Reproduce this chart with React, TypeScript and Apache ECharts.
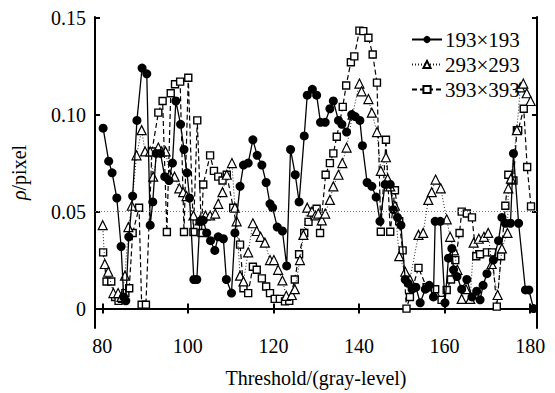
import React, { useEffect, useRef } from "react";
import * as echarts from "echarts";

const xTicks = [80, 100, 120, 140, 160, 180];
const yTicks = [0, 0.05, 0.1, 0.15];
const seriesNames = ["193×193", "293×293", "393×393"];
const refLine = 0.05;

const circleX = [80.2,81.5,82.3,83.4,84.4,85.0,85.5,86.2,87.1,88.1,89.3,90.4,91.2,91.8,92.6,93.6,94.6,95.6,96.4,97.2,98.3,99.1,99.8,100.4,101.4,102.1,102.8,103.6,104.4,105.3,106.3,107.1,108.3,109.0,110.2,111.0,112.2,113.0,114.1,115.2,116.2,117.3,118.3,119.2,119.8,120.9,122.1,123.1,124.0,125.1,126.0,127.2,127.9,129.1,130.1,131.0,132.1,133.2,134.0,135.2,136.0,137.1,138.3,139.1,140.2,140.8,141.9,143.0,144.0,144.9,146.1,147.3,148.0,149.0,149.8,150.8,151.5,152.4,153.3,154.3,155.5,156.4,157.4,157.8,159.0,160.1,160.9,161.7,162.1,162.9,164.0,165.2,166.4,167.5,168.3,169.0,169.9,171.4,172.6,173.4,174.2,175.4,176.1,177.3,178.9,179.7,180.8];
const circleY = [0.093,0.076,0.070,0.057,0.032,0.006,0.004,0.037,0.058,0.097,0.124,0.121,0.043,0.055,0.080,0.080,0.068,0.066,0.075,0.107,0.095,0.082,0.070,0.057,0.015,0.015,0.045,0.0455,0.039,0.035,0.030,0.037,0.036,0.015,0.008,0.039,0.063,0.074,0.075,0.087,0.079,0.074,0.065,0.054,0.052,0.042,0.040,0.022,0.082,0.069,0.055,0.089,0.110,0.113,0.110,0.096,0.096,0.103,0.107,0.097,0.095,0.091,0.100,0.099,0.097,0.084,0.065,0.063,0.0575,0.045,0.064,0.064,0.051,0.047,0.043,0.015,0.013,0.010,0.011,0.003,0.010,0.012,0.006,0.045,0.045,0.003,0.026,0.031,0.020,0.0165,0.010,0.015,0.006,0.009,0.0045,0.012,0.018,0.025,0.035,0.047,0.044,0.044,0.080,0.044,0.0096,0.0096,0.000];

const triX = [80.1,80.6,81.4,82.6,83.7,84.5,85.3,86.1,86.9,88.0,89.2,90.0,91.2,91.9,93.1,93.9,94.8,95.8,96.9,98.0,98.9,99.7,101.3,102.8,104.1,105.2,106.4,107.1,108.1,109.1,110.3,111.0,111.4,112.2,113.0,114.1,115.2,116.1,117.0,118.0,119.2,120.1,121.1,122.1,123.0,124.3,125.0,126.2,127.0,127.9,129.0,129.8,130.5,131.3,132.1,133.2,134.0,135.2,136.1,137.1,138.5,140.1,140.6,142.2,143.0,144.2,145.1,146.3,146.7,147.3,148.4,149.4,150.8,151.9,153.9,155.0,156.2,157.0,157.9,159.1,160.5,161.3,162.2,163.0,164.0,165.0,166.0,166.8,168.0,169.2,170.2,171.0,172.4,173.4,174.7,174.9,175.5,176.9,177.7,178.4,179.2,180.1];
const triY = [0.043,0.023,0.019,0.008,0.008,0.006,0.017,0.042,0.053,0.079,0.092,0.081,0.081,0.068,0.083,0.081,0.081,0.069,0.068,0.062,0.060,0.058,0.048,0.0455,0.048,0.048,0.049,0.054,0.060,0.069,0.075,0.052,0.045,0.017,0.014,0.029,0.044,0.040,0.037,0.034,0.025,0.025,0.020,0.0145,0.0066,0.007,0.010,0.025,0.038,0.052,0.050,0.048,0.049,0.0455,0.049,0.056,0.063,0.069,0.075,0.083,0.100,0.116,0.112,0.108,0.101,0.091,0.071,0.078,0.067,0.063,0.053,0.027,0.019,0.015,0.038,0.039,0.056,0.060,0.0665,0.062,0.046,0.037,0.030,0.020,0.005,0.010,0.005,0.034,0.036,0.037,0.039,0.023,0.007,0.031,0.039,0.062,0.067,0.092,0.114,0.116,0.111,0.107];

const sqX = [80.2,81.0,82.1,83.0,83.8,84.6,85.4,86.3,87.1,88.6,89.2,90.2,91.6,93.1,94.1,95.1,96.0,97.0,98.2,99.1,100.1,101.3,102.2,103.2,103.6,105.2,106.1,107.1,108.1,109.1,110.6,112.2,113.0,114.1,115.2,116.1,117.3,118.3,119.2,120.3,121.5,122.7,123.7,125.0,126.0,127.2,128.2,129.2,130.1,130.9,132.2,133.2,134.0,134.8,136.2,137.0,138.1,138.9,140.1,141.0,142.2,143.2,144.2,145.1,146.3,147.3,148.4,149.4,150.2,151.1,151.9,153.9,155.8,157.8,159.3,160.5,161.5,162.5,163.5,164.0,165.2,166.4,167.4,168.3,169.9,171.1,172.2,173.2,174.2,174.9,176.1,176.9,177.2,178.5,179.3,180.2];
const sqY = [0.029,0.014,0.014,0.006,0.004,0.005,0.008,0.0105,0.039,0.052,0.002,0.002,0.081,0.101,0.107,0.0395,0.111,0.1156,0.117,0.0395,0.119,0.0395,0.097,0.039,0.064,0.079,0.071,0.068,0.066,0.069,0.052,0.033,0.0105,0.008,0.0216,0.020,0.0156,0.0114,0.008,0.005,0.005,0.0037,0.004,0.015,0.028,0.039,0.0447,0.050,0.0515,0.039,0.069,0.075,0.080,0.0886,0.104,0.115,0.127,0.130,0.1433,0.143,0.1396,0.131,0.1165,0.0396,0.087,0.0396,0.061,0.045,0.030,0.000,0.006,0.021,0.011,0.010,0.0045,0.0096,0.015,0.025,0.039,0.050,0.049,0.047,0.027,0.028,0.029,0.029,0.001,0.027,0.053,0.069,0.066,0.092,0.092,0.103,0.073,0.0527];

const pairs = (xs: number[], ys: number[]) => xs.map((x, i) => [x, ys[i]]);

const FONT = "'Liberation Serif', 'Times New Roman', serif";

export default function App() {
  const ref = useRef<HTMLDivElement>(null);
  useEffect(() => {
    if (!ref.current) return;
    const chart = echarts.init(ref.current, null, { renderer: "svg" });
    const axisLine = { show: true, lineStyle: { color: "#000", width: 2 } };
    const tickStyle = { lineStyle: { color: "#000", width: 2 } };
    const xBase = { type: "value" as const, min: 78.3, max: 181.6, splitLine: { show: false } };
    const yBase = { type: "value" as const, min: -0.01, max: 0.1503, splitLine: { show: false } };
    chart.setOption({
      animation: false,
      backgroundColor: "#fff",
      textStyle: { fontFamily: FONT },
      grid: { left: 95, right: 18, top: 17, bottom: 63 },
      legend: {
        orient: "vertical",
        left: 406,
        top: 24,
        itemWidth: 30,
        itemHeight: 9,
        itemGap: 4,
        textStyle: { fontFamily: FONT, fontSize: 21, color: "#000", padding: [0, 0, 0, -2] },
        data: seriesNames,
      },
      xAxis: [
        {
          ...xBase,
          position: "bottom",
          name: "Threshold/(gray-level)",
          nameLocation: "middle",
          nameGap: 40,
          nameTextStyle: { fontFamily: FONT, fontSize: 20, color: "#000" },
          axisLine,
          axisTick: { show: true, inside: true, length: 5, customValues: xTicks, ...tickStyle },
          axisLabel: { show: true, customValues: xTicks, margin: 8, fontFamily: FONT, fontSize: 20, color: "#000" },
        },
        {
          ...xBase,
          position: "top",
          axisLine,
          axisTick: { show: true, inside: true, length: 5, customValues: xTicks, ...tickStyle },
          axisLabel: { show: false },
        },
      ],
      yAxis: [
        {
          ...yBase,
          position: "left",
          name: "{i|ρ}/pixel",
          nameLocation: "middle",
          nameGap: 66,
          nameRotate: 90,
          nameTextStyle: {
            fontFamily: FONT,
            fontSize: 20,
            color: "#000",
            rich: { i: { fontFamily: FONT, fontSize: 20, fontStyle: "italic", color: "#000" } },
          },
          axisLine,
          axisTick: { show: true, inside: true, length: 5, customValues: yTicks, ...tickStyle },
          axisLabel: {
            show: true,
            customValues: yTicks,
            margin: 9,
            fontFamily: FONT,
            fontSize: 20,
            color: "#000",
            formatter: (v: number) => (Math.abs(v) < 1e-9 ? "0" : v.toFixed(2)),
          },
        },
        {
          ...yBase,
          position: "right",
          axisLine,
          axisTick: { show: true, inside: true, length: 5, customValues: yTicks, ...tickStyle },
          axisLabel: { show: false },
        },
      ],
      series: [
        {
          name: seriesNames[2],
          type: "line",
          data: pairs(sqX, sqY),
          symbol: "rect",
          symbolSize: 7,
          lineStyle: { color: "#000", width: 1.2, type: [5, 3] },
          itemStyle: { color: "#fff", borderColor: "#000", borderWidth: 1.4 },
          z: 2,
          markLine: {
            silent: true,
            symbol: "none",
            label: { show: false },
            lineStyle: { color: "#777", width: 1, type: [1, 2] },
            data: [{ yAxis: refLine }],
          },
        },
        {
          name: seriesNames[1],
          type: "line",
          data: pairs(triX, triY),
          symbol: "triangle",
          symbolSize: 9,
          lineStyle: { color: "#222", width: 1, type: [1, 2] },
          itemStyle: { color: "#fff", borderColor: "#000", borderWidth: 1.2 },
          z: 3,
        },
        {
          name: seriesNames[0],
          type: "line",
          data: pairs(circleX, circleY),
          symbol: "circle",
          symbolSize: 9,
          lineStyle: { color: "#000", width: 1.3, type: "solid" },
          itemStyle: { color: "#000", borderColor: "#000", borderWidth: 0 },
          z: 4,
        },
      ],
    });
    return () => chart.dispose();
  }, []);
  return <div ref={ref} style={{ position: "fixed", left: 0, top: 0, width: 555, height: 393 }} />;
}
